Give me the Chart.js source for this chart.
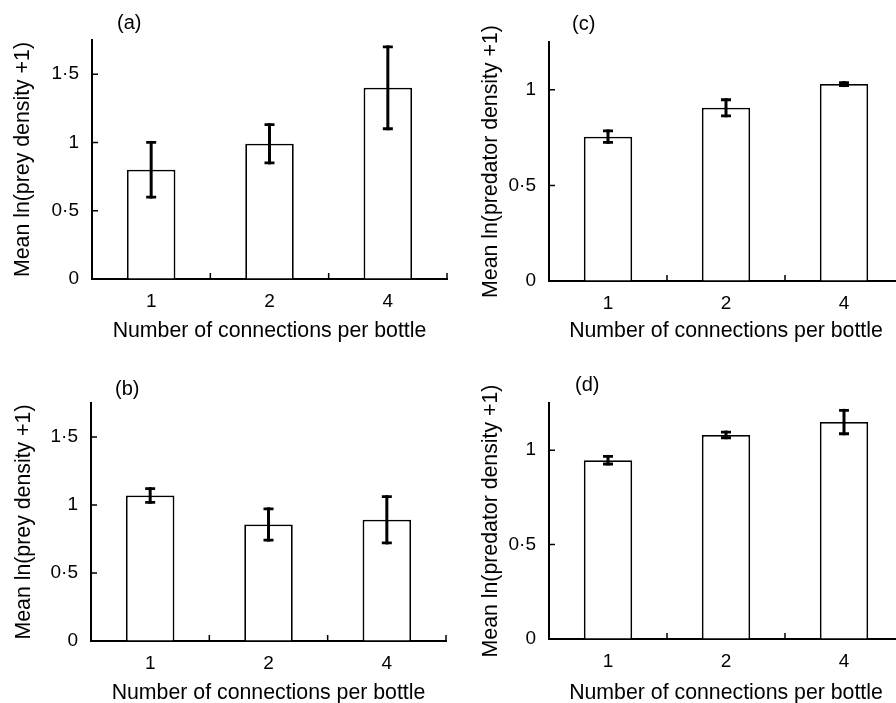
<!DOCTYPE html>
<html>
<head>
<meta charset="utf-8">
<script src="https://cdn.jsdelivr.net/npm/chart.js@4"></script>
<style>
  html, body { margin: 0; padding: 0; background: #fff; overflow: hidden; width: 896px; height: 703px; }
  canvas { position: absolute; }
</style>
</head>
<body>
<canvas id="pa"></canvas>
<canvas id="pb"></canvas>
<canvas id="pc"></canvas>
<canvas id="pd"></canvas>
<script>
// ---------- data ----------
const categories = ['1', '2', '4'];

const preyA      = [0.80, 0.99, 1.40];
const preyAErr   = [0.20, 0.14, 0.30];
const preyB      = [1.07, 0.857, 0.891];
const preyBErr   = [0.05, 0.115, 0.17];
const predC      = [0.755, 0.906, 1.03];
const predCErr   = [0.03, 0.042, 0.008];
const predD      = [0.947, 1.081, 1.149];
const predDErr   = [0.02, 0.015, 0.062];

const preyTicks       = [0, 0.5, 1, 1.5];
const preyTickLabels  = ['0', '0·5', '1', '1·5'];
const predTicks       = [0, 0.5, 1];
const predTickLabels  = ['0', '0·5', '1'];
const preyMax = 1.75;
const predMax = 1.25;

const xTitle     = 'Number of connections per bottle';
const preyYTitle = 'Mean ln(prey density +1)';
const predYTitle = 'Mean ln(predator density +1)';

// ---------- styling / layout ----------
const FONT = "'Liberation Sans', Arial, Helvetica, sans-serif";
const TICK_SIZE = 19, TITLE_SIZE = 21.3, LABEL_SIZE = 20;

const extrasPlugin = {
  id: 'extras',
  afterDatasetsDraw(chart, args, opts) {
    const ctx = chart.ctx;
    const y = chart.scales.y, x = chart.scales.x;
    const meta = chart.getDatasetMeta(0);
    const vals = chart.data.datasets[0].data;
    ctx.save();
    ctx.strokeStyle = '#000';
    ctx.lineCap = 'butt';
    // error bars
    meta.data.forEach((bar, i) => {
      const e = opts.errors[i];
      const yHi = y.getPixelForValue(vals[i] + e);
      const yLo = y.getPixelForValue(vals[i] - e);
      const cx = bar.x;
      ctx.lineWidth = 3;
      ctx.beginPath();
      ctx.moveTo(cx, yHi - 1.5); ctx.lineTo(cx, yLo + 1.5);
      ctx.stroke();
      ctx.lineWidth = 2.8;
      ctx.beginPath();
      ctx.moveTo(cx - 5, yHi); ctx.lineTo(cx + 5, yHi);
      ctx.moveTo(cx - 5, yLo); ctx.lineTo(cx + 5, yLo);
      ctx.stroke();
    });
    // inward tick marks
    ctx.lineWidth = 1.5;
    ctx.beginPath();
    opts.yTicks.forEach(v => {
      if (v === 0) return;
      const py = y.getPixelForValue(v);
      ctx.moveTo(x.left, py); ctx.lineTo(x.left + 6, py);
    });
    for (let i = 0; i < categories.length; i++) {
      const px = x.getPixelForValue(i + 0.5);
      ctx.moveTo(px, y.bottom); ctx.lineTo(px, y.bottom - 6);
    }
    ctx.stroke();
    // panel label
    ctx.fillStyle = '#000';
    ctx.font = LABEL_SIZE + 'px ' + FONT;
    ctx.textBaseline = 'middle';
    ctx.textAlign = 'left';
    ctx.fillText(opts.label, x.left + opts.labelDX, y.top - opts.labelDY);
    ctx.restore();
  }
};

function makePanel(id, g, values, errors, yTicks, yTickLabels, yMax, yTitle, label) {
  const cv = document.getElementById(id);
  cv.width = g.W; cv.height = g.H;
  cv.style.left = g.X + 'px'; cv.style.top = g.Y + 'px';
  cv.style.width = g.W + 'px'; cv.style.height = g.H + 'px';
  const yAxisW = g.axisLeft - g.X;
  const padTop = g.axisTop - g.Y;
  const padRight = g.X + g.W - g.axisRight;
  const xAxisH = g.Y + g.H - g.axisBottom;
  const tl = TITLE_SIZE * 1.2 / 2;
  new Chart(cv, {
    type: 'bar',
    data: {
      labels: categories,
      datasets: [{
        data: values,
        backgroundColor: '#ffffff',
        borderColor: '#000000',
        borderWidth: 1.8,
        borderSkipped: 'bottom',
        barPercentage: 0.41,
        categoryPercentage: 1.0
      }]
    },
    options: {
      responsive: false,
      animation: false,
      devicePixelRatio: 1,
      layout: { padding: { top: padTop, right: padRight, left: 0, bottom: 0 } },
      plugins: {
        legend: { display: false },
        tooltip: { enabled: false },
        extras: { errors: errors, yTicks: yTicks, label: label, labelDX: g.labelDX, labelDY: g.labelDY }
      },
      scales: {
        x: {
          type: 'category',
          offset: true,
          grid: { display: true, drawOnChartArea: false, drawTicks: false },
          border: { display: true, color: '#000', width: 2 },
          ticks: { color: '#000', font: { family: FONT, size: TICK_SIZE }, padding: 11, maxRotation: 0 },
          title: { display: true, text: xTitle, color: '#000', font: { family: FONT, size: TITLE_SIZE },
                   padding: { top: 0, bottom: (g.Y + g.H) - g.xTitleY - tl } },
          afterFit: s => { s.height = xAxisH; }
        },
        y: {
          min: 0, max: yMax,
          grid: { display: true, drawOnChartArea: false, drawTicks: false },
          border: { display: true, color: '#000', width: 2 },
          ticks: { color: '#000', font: { family: FONT, size: TICK_SIZE }, padding: 13,
                   callback: v => { const k = yTicks.indexOf(v); return k >= 0 ? yTickLabels[k] : ''; } },
          afterBuildTicks: s => { s.ticks = yTicks.map(v => ({ value: v })); },
          title: { display: true, text: yTitle, color: '#000', font: { family: FONT, size: TITLE_SIZE },
                   padding: { top: g.yTitleX - g.X - tl, bottom: 0 } },
          afterFit: s => { s.width = yAxisW; }
        }
      }
    },
    plugins: [extrasPlugin]
  });
}

makePanel('pa', { X: 0,   Y: 0,   W: 452, H: 352, axisLeft: 92,  axisTop: 40,  axisRight: 447, axisBottom: 279,
                  yTitleX: 23,  xTitleY: 331, labelDX: 25, labelDY: 17 },
          preyA, preyAErr, preyTicks, preyTickLabels, preyMax, preyYTitle, '(a)');
makePanel('pb', { X: 0,   Y: 363, W: 452, H: 352, axisLeft: 91,  axisTop: 403, axisRight: 446, axisBottom: 641,
                  yTitleX: 24,  xTitleY: 693, labelDX: 24, labelDY: 14 },
          preyB, preyBErr, preyTicks, preyTickLabels, preyMax, preyYTitle, '(b)');
makePanel('pc', { X: 450, Y: 0,   W: 460, H: 352, axisLeft: 549, axisTop: 42,  axisRight: 903, axisBottom: 281,
                  yTitleX: 491, xTitleY: 331, labelDX: 23, labelDY: 18 },
          predC, predCErr, predTicks, predTickLabels, predMax, predYTitle, '(c)');
makePanel('pd', { X: 450, Y: 363, W: 460, H: 352, axisLeft: 549, axisTop: 403, axisRight: 903, axisBottom: 639,
                  yTitleX: 491, xTitleY: 693, labelDX: 26, labelDY: 18 },
          predD, predDErr, predTicks, predTickLabels, predMax, predYTitle, '(d)');
</script>
</body>
</html>
